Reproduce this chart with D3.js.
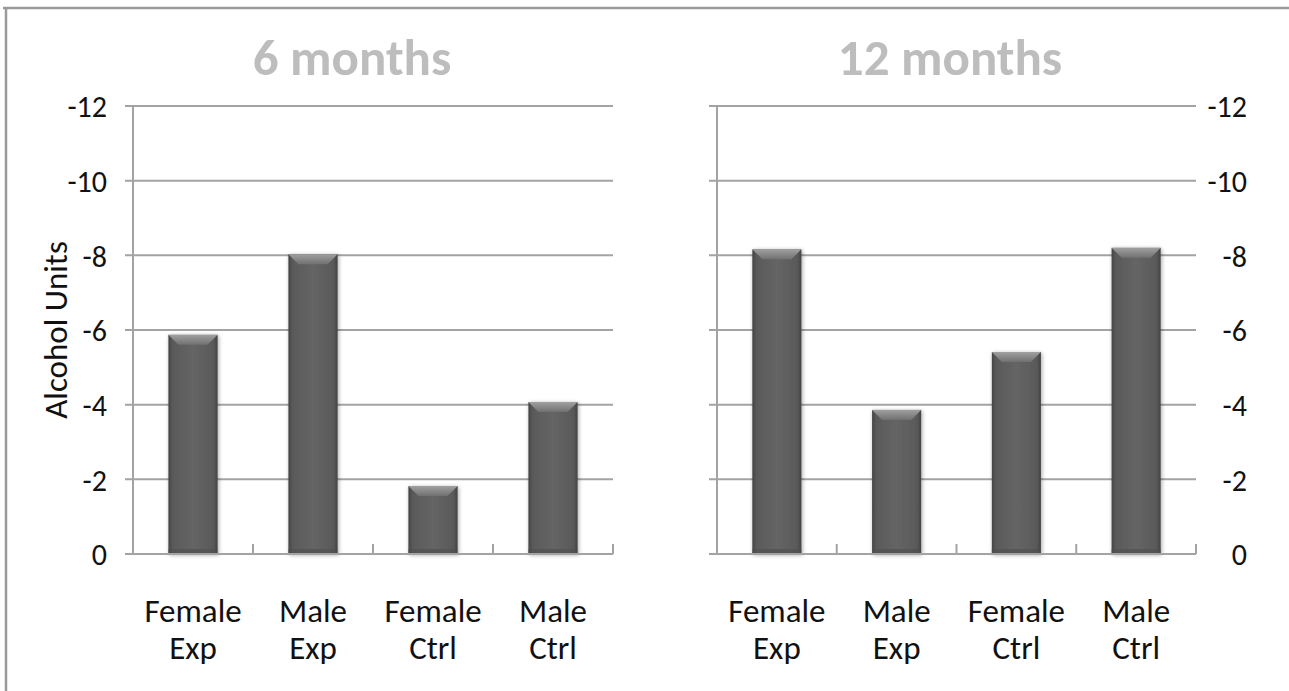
<!DOCTYPE html>
<html>
<head>
<meta charset="utf-8">
<script src="https://cdn.jsdelivr.net/npm/d3@7"></script>
<style>
  html, body { margin: 0; padding: 0; background: #fff; }
  svg { display: block; }
  text { font-family: Carlito, Lato, "Open Sans", sans-serif; }
</style>
</head>
<body>
<svg id="chart" width="1289" height="691"></svg>
<script>
// Change in alcohol units by group
const categories = ["Female Exp", "Male Exp", "Female Ctrl", "Male Ctrl"];
const panelTitles = ["6 months", "12 months"];
const values6 = [-5.87, -8.03, -1.82, -4.07];
const values12 = [-8.16, -3.86, -5.41, -8.2];
const yTicks = [0, -2, -4, -6, -8, -10, -12];
const yLabel = "Alcohol Units";

const svg = d3.select("#chart");
const W = 1289, H = 691;

// frame lines along top and left
svg.append("line").attr("x1", 3).attr("x2", W).attr("y1", 8).attr("y2", 8)
  .attr("stroke", "#9a9a9a").attr("stroke-width", 2.5);
svg.append("line").attr("x1", 6).attr("x2", 6).attr("y1", 8).attr("y2", H)
  .attr("stroke", "#9a9a9a").attr("stroke-width", 2.5);

const defs = svg.append("defs");
// bar body: darker at the sides, lighter toward the middle
const body = defs.append("linearGradient").attr("id", "barBody")
  .attr("x1", "0").attr("x2", "1").attr("y1", "0").attr("y2", "0");
[[0, "#444444"], [0.08, "#595959"], [0.5, "#656565"], [0.92, "#595959"], [1, "#424242"]]
  .forEach(([o, c]) => body.append("stop").attr("offset", o).attr("stop-color", c));
// top bevel
const bevel = defs.append("linearGradient").attr("id", "barBevel")
  .attr("x1", "0").attr("x2", "0").attr("y1", "0").attr("y2", "1");
[[0, "#a0a0a0"], [1, "#707070"]]
  .forEach(([o, c]) => bevel.append("stop").attr("offset", o).attr("stop-color", c));
// soft shadow around the bars
const shadow = defs.append("filter").attr("id", "barShadow")
  .attr("x", "-30%").attr("y", "-10%").attr("width", "160%").attr("height", "120%");
shadow.append("feGaussianBlur").attr("in", "SourceAlpha").attr("stdDeviation", 2.2).attr("result", "b");
shadow.append("feOffset").attr("in", "b").attr("dx", 1).attr("dy", 1).attr("result", "o");
shadow.append("feComponentTransfer").attr("in", "o").attr("result", "s")
  .append("feFuncA").attr("type", "linear").attr("slope", 0.35);
const fm = shadow.append("feMerge");
fm.append("feMergeNode").attr("in", "s");
fm.append("feMergeNode").attr("in", "SourceGraphic");

const y = d3.scaleLinear().domain([0, -12]).range([554, 106]);
const gridColor = "#a3a3a3";

function drawPanel(left, right, title, titleX, values, labelSide) {
  const g = svg.append("g");
  const x = d3.scaleBand().domain(categories).range([left, right]).padding(0);
  const barW = x.bandwidth() * 0.41;

  // horizontal gridlines (with the outer tick stub on the left)
  g.selectAll("line.grid").data(yTicks.filter(d => d !== 0)).join("line")
    .attr("class", "grid")
    .attr("x1", left - 8).attr("x2", right)
    .attr("y1", d => y(d)).attr("y2", d => y(d))
    .attr("stroke", gridColor).attr("stroke-width", 2);

  // vertical axis line
  g.append("line").attr("x1", left).attr("x2", left).attr("y1", y(-12)).attr("y2", y(0))
    .attr("stroke", gridColor).attr("stroke-width", 2);

  // bars
  const bars = g.selectAll("g.bar").data(values).join("g").attr("class", "bar")
    .attr("filter", "url(#barShadow)");
  bars.append("rect")
    .attr("x", (d, i) => x(categories[i]) + (x.bandwidth() - barW) / 2)
    .attr("y", d => y(d))
    .attr("width", barW)
    .attr("height", d => y(0) - y(d))
    .attr("fill", "url(#barBody)");
  bars.append("path")
    .attr("d", (d, i) => {
      const x0 = x(categories[i]) + (x.bandwidth() - barW) / 2, y0 = y(d), b = 10;
      return `M${x0},${y0}H${x0 + barW}L${x0 + barW - b},${y0 + b}H${x0 + b}Z`;
    })
    .attr("fill", "url(#barBevel)");
  bars.append("rect")
    .attr("x", (d, i) => x(categories[i]) + (x.bandwidth() - barW) / 2)
    .attr("y", y(0) - 5).attr("width", barW).attr("height", 5)
    .attr("fill", "#4e4e4e").attr("opacity", 0.6);

  // category axis with inward ticks at band edges
  g.append("line").attr("x1", left - 8).attr("x2", right).attr("y1", y(0)).attr("y2", y(0))
    .attr("stroke", gridColor).attr("stroke-width", 2);
  g.selectAll("line.ctick").data(categories.slice(1).map(c => x(c)).concat([right])).join("line")
    .attr("class", "ctick")
    .attr("x1", d => d).attr("x2", d => d).attr("y1", y(0) - 10).attr("y2", y(0))
    .attr("stroke", gridColor).attr("stroke-width", 2);

  // category labels on two lines
  const lab = g.selectAll("text.cat").data(categories).join("text").attr("class", "cat")
    .attr("text-anchor", "middle").attr("font-size", 33).attr("fill", "#111")
    .attr("transform", d => `translate(${x(d) + x.bandwidth() / 2},0)`);
  lab.each(function (d) {
    const parts = d.split(" ");
    d3.select(this).selectAll("tspan").data(parts).join("tspan")
      .attr("x", 0).attr("y", (p, j) => 622 + j * 37).text(p => p);
  });

  // value axis labels
  const axis = labelSide === "left"
    ? d3.axisLeft(y).tickValues(yTicks).tickSize(0).tickPadding(0)
    : d3.axisRight(y).tickValues(yTicks).tickSize(0).tickPadding(0);
  axis.tickFormat(d => String(d));
  const ya = g.append("g")
    .attr("transform", labelSide === "left" ? "translate(107,0)" : "translate(1247,0)")
    .call(axis);
  ya.select(".domain").remove();
  ya.selectAll("text").attr("font-size", 30).attr("fill", "#111")
    .attr("font-family", "Carlito, Lato, 'Open Sans', sans-serif")
    .attr("text-anchor", "end").attr("x", 0).attr("dy", "0.36em");

  // panel title, centred over the whole panel including its labels
  g.append("text").attr("x", titleX).attr("y", 75)
    .attr("text-anchor", "middle").attr("font-size", 51).attr("font-weight", "bold")
    .attr("fill", "#bdbdbd").text(title);
}

drawPanel(133, 613, panelTitles[0], 352, values6, "left");
drawPanel(717, 1196, panelTitles[1], 950, values12, "right");

svg.append("text")
  .attr("transform", `translate(67,${y(-6)}) rotate(-90)`)
  .attr("text-anchor", "middle").attr("font-size", 33).attr("fill", "#111")
  .text(yLabel);
</script>
</body>
</html>
